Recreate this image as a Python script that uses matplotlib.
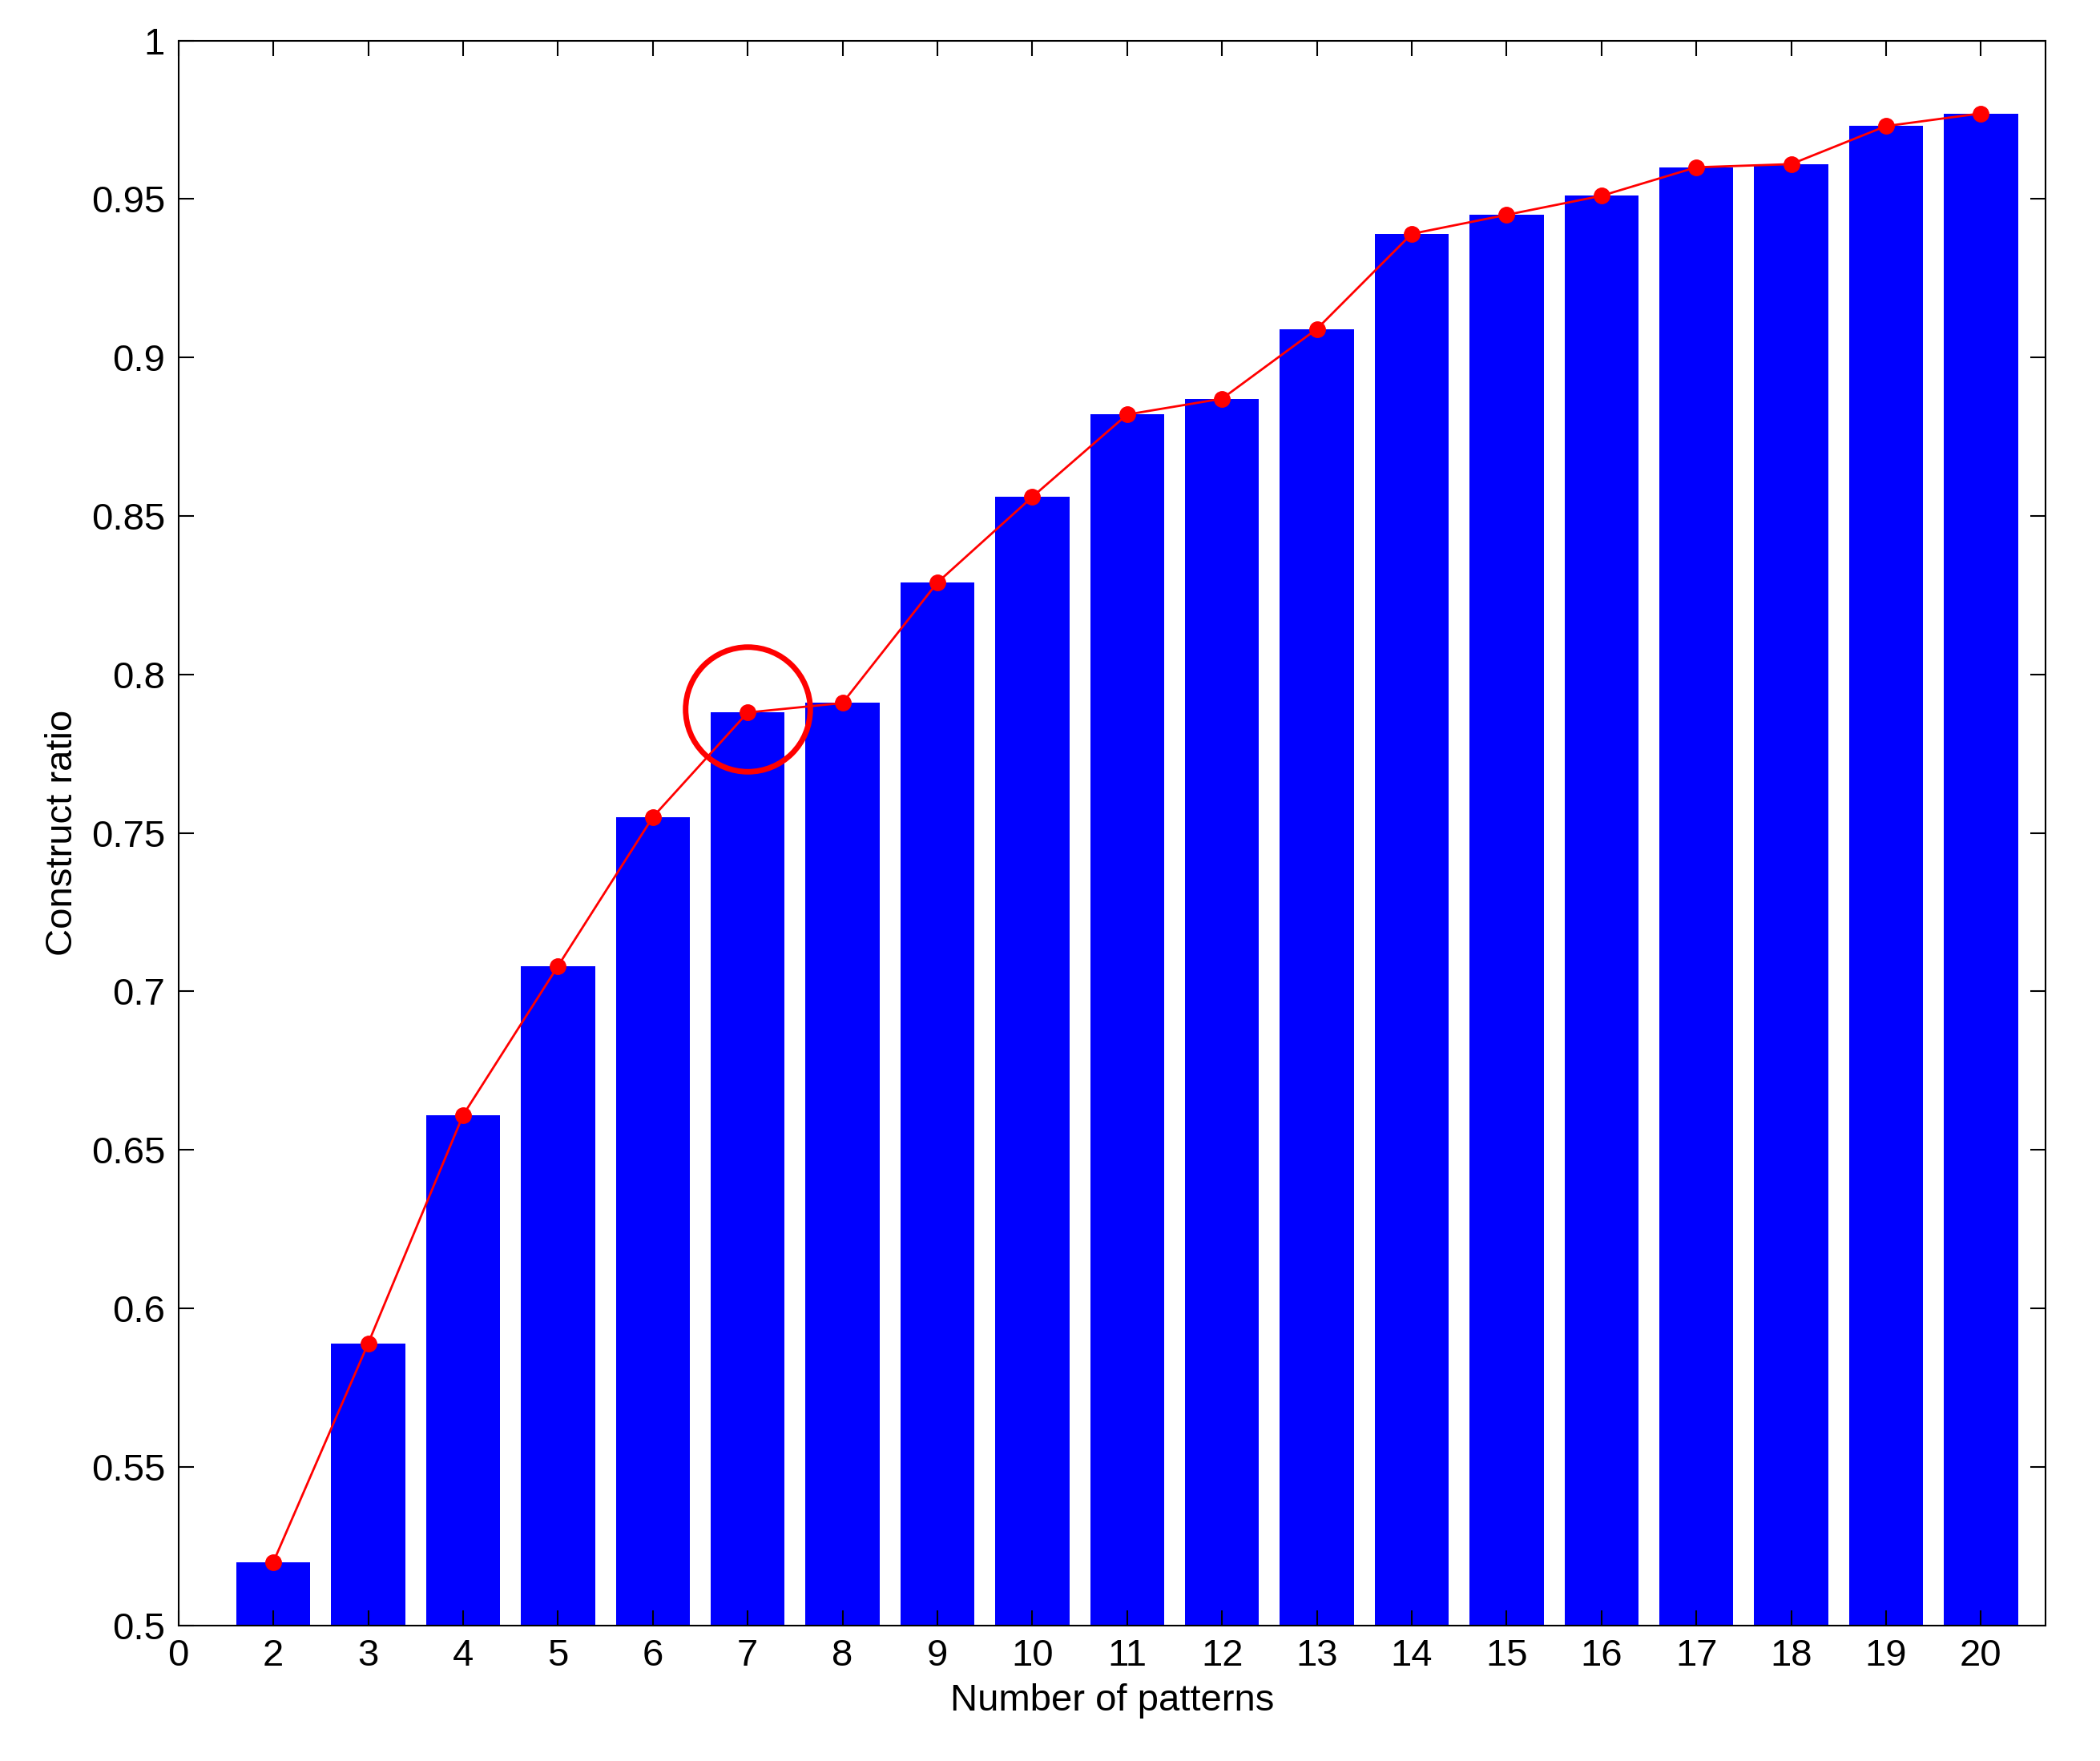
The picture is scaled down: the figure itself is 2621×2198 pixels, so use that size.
import matplotlib
matplotlib.use("Agg")
import matplotlib.pyplot as plt

# data
patterns = list(range(2, 21))
ratio = [0.520, 0.589, 0.661, 0.708, 0.755, 0.788, 0.791, 0.829, 0.856, 0.882,
         0.887, 0.909, 0.939, 0.945, 0.951, 0.960, 0.961, 0.973, 0.977]
tick_pos = list(range(1, 21))
tick_labels = ['0'] + [str(p) for p in patterns]

plt.rcParams.update({'font.family': 'Liberation Sans', 'font.size': 34})

fig = plt.figure(figsize=(26.21, 21.98), dpi=100)
ax = fig.add_axes([0.085, 0.077, 0.889, 0.9])

ax.bar(patterns, ratio, width=0.78, color='#0000ff', zorder=1)
ax.plot(patterns, ratio, color='red', linewidth=2, marker='o', markersize=14, zorder=3)
# highlight at 7 patterns
ax.plot([7], [0.789], marker='o', markersize=112, markerfacecolor='none',
        markeredgecolor='red', markeredgewidth=5, zorder=4)

ax.set_xlim(1, 20.68)
ax.set_ylim(0.5, 1)
ax.set_xticks(tick_pos)
ax.set_xticklabels(tick_labels)
ax.set_yticks([0.5, 0.55, 0.6, 0.65, 0.7, 0.75, 0.8, 0.85, 0.9, 0.95, 1])
ax.set_yticklabels(['0.5', '0.55', '0.6', '0.65', '0.7', '0.75', '0.8', '0.85', '0.9', '0.95', '1'])
ax.tick_params(direction='in', length=14, width=1.5, top=True, right=True, pad=12)
for s in ax.spines.values():
    s.set_linewidth(1.5)

ax.set_xlabel("Number of patterns", labelpad=8)
ax.set_ylabel("Construct ratio", labelpad=10)

fig.savefig("out.png", dpi=100)
